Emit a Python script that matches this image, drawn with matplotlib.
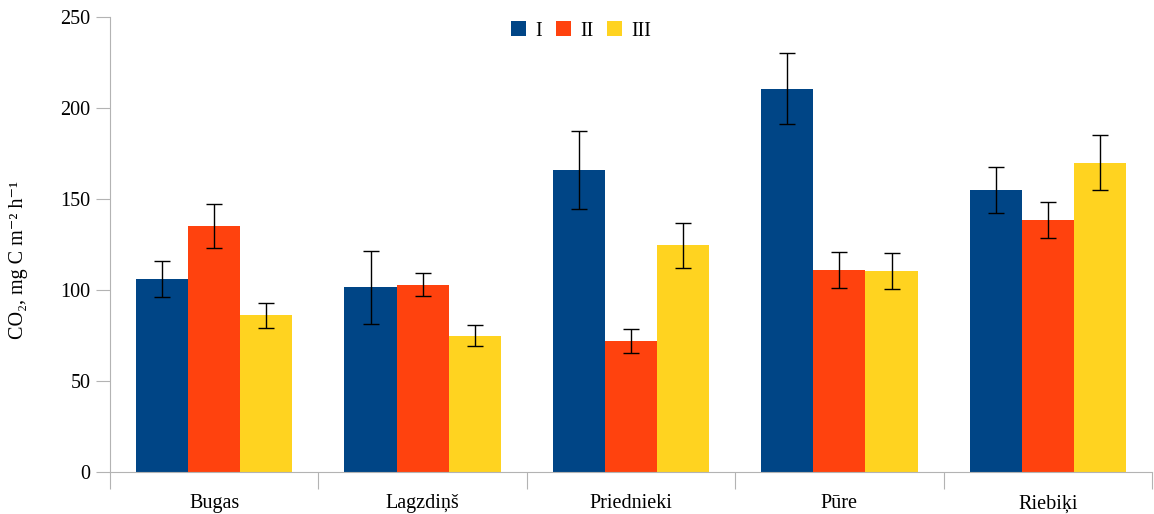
import matplotlib
matplotlib.use("Agg")
import matplotlib.pyplot as plt
import numpy as np

plt.rcParams['font.family'] = ['Liberation Serif', 'DejaVu Serif']

categories = ["Bugas", "Lagzdiņš", "Priednieki", "Pūre", "Riebiķi"]
series_names = ["I", "II", "III"]
values_I = [106, 101.5, 166, 210.5, 155]
values_II = [135, 103, 72, 111, 138.5]
values_III = [86, 75, 124.5, 110.5, 170]
err_I = [10, 20, 21.5, 19.5, 12.5]
err_II = [12, 6.5, 6.5, 10, 10]
err_III = [7, 6, 12.5, 9.8, 15]
colors = ["#004586", "#FF420E", "#FFD320"]

fig = plt.figure(figsize=(11.54, 5.14), dpi=100)
ax = fig.add_axes([110/1154, 42/514, 1042/1154, 455/514])

x = np.arange(len(categories))
w = 0.25
vals = [values_I, values_II, values_III]
errs = [err_I, err_II, err_III]
for i in range(3):
    pos = x + (i - 1) * w
    ax.bar(pos, vals[i], width=w, color=colors[i], label=series_names[i], zorder=2)
    ax.errorbar(pos, vals[i], yerr=errs[i], fmt='none', ecolor='black',
                elinewidth=1, capsize=5.5, capthick=1, zorder=3)

ax.set_xlim(-0.5, len(categories) - 0.5)
ax.set_ylim(0, 250)
ax.set_yticks(np.arange(0, 251, 50))
ax.tick_params(axis='y', direction='out', length=10, color='#b3b3b3', labelsize=14.5, pad=4)
ax.set_xticks(np.arange(-0.5, len(categories), 1.0))
ax.set_xticklabels([])
ax.set_xticks(x, minor=True)
ax.set_xticklabels(categories, minor=True)
ax.tick_params(axis='x', which='major', direction='out', length=12, color='#b3b3b3')
ax.tick_params(axis='x', which='minor', length=0, labelsize=14.5, pad=16)

for s in ['top', 'right']:
    ax.spines[s].set_visible(False)
ax.spines['left'].set_color('#b3b3b3')
ax.spines['bottom'].set_color('#b3b3b3')

ax.set_ylabel("CO₂, mg C m⁻² h⁻¹", fontsize=14.5)
ax.yaxis.set_label_coords(-0.079, 0.466)

ax.legend(loc='upper center', bbox_to_anchor=(0.452, 1.03), ncol=3, frameon=False,
          fontsize=14.5, handlelength=0.75, handleheight=0.75, handletextpad=0.45,
          columnspacing=0.7)

fig.savefig("out.png", dpi=100)
